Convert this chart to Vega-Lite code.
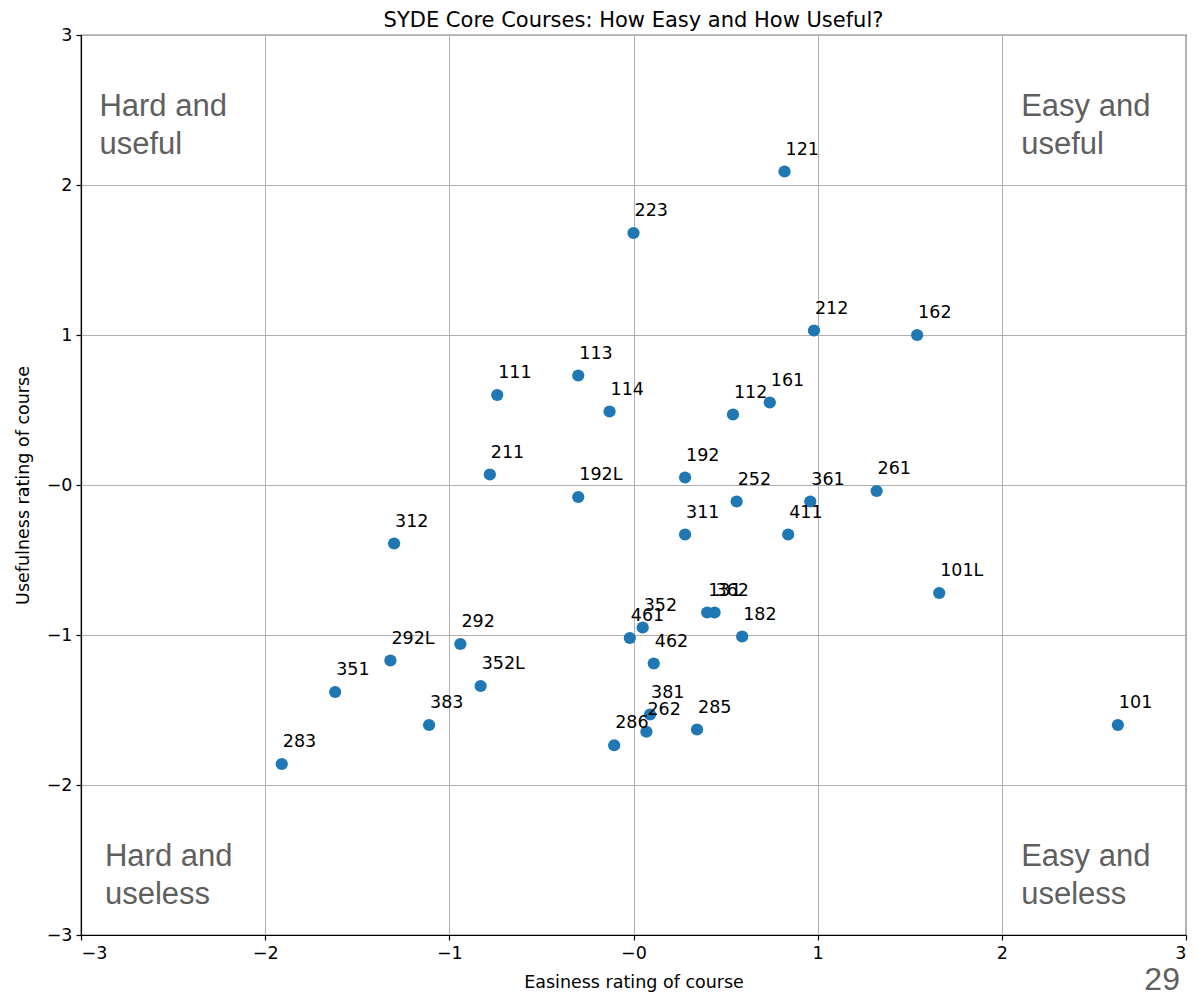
{
  "$schema": "https://vega.github.io/schema/vega-lite/v6.json",
  "width": 1105,
  "height": 900,
  "autosize": {"type": "none"},
  "padding": {"left": 81, "top": 35, "right": 12, "bottom": 57},
  "background": "white",
  "title": {"text": "SYDE Core Courses: How Easy and How Useful?", "font": "DejaVu Sans", "fontSize": 21, "fontWeight": "normal", "color": "black", "anchor": "middle", "offset": -5},
  "config": {
    "view": {"stroke": "black", "strokeWidth": 1.2},
    "axis": {"grid": true, "gridColor": "#b0b0b0", "gridWidth": 1, "domainColor": "black", "domainWidth": 1.2, "tickColor": "black", "tickSize": 5, "tickWidth": 1.2, "labelFont": "DejaVu Sans", "labelFontSize": 17.5, "labelColor": "black", "labelPadding": 4, "titleFont": "DejaVu Sans", "titleFontSize": 17.5, "titleFontWeight": "normal", "titleColor": "black"}
  },
  "datasets": {
    "courses": [
      {"label": "121", "x": 0.82, "y": 2.09},
      {"label": "223", "x": 0.0, "y": 1.68},
      {"label": "212", "x": 0.98, "y": 1.03},
      {"label": "162", "x": 1.54, "y": 1.0},
      {"label": "113", "x": -0.3, "y": 0.73},
      {"label": "111", "x": -0.74, "y": 0.6},
      {"label": "114", "x": -0.13, "y": 0.49},
      {"label": "112", "x": 0.54, "y": 0.47},
      {"label": "161", "x": 0.74, "y": 0.55},
      {"label": "211", "x": -0.78, "y": 0.07},
      {"label": "192L", "x": -0.3, "y": -0.08},
      {"label": "192", "x": 0.28, "y": 0.05},
      {"label": "252", "x": 0.56, "y": -0.11},
      {"label": "361", "x": 0.96, "y": -0.11},
      {"label": "261", "x": 1.32, "y": -0.04},
      {"label": "311", "x": 0.28, "y": -0.33},
      {"label": "411", "x": 0.84, "y": -0.33},
      {"label": "312", "x": -1.3, "y": -0.39},
      {"label": "101L", "x": 1.66, "y": -0.72},
      {"label": "131", "x": 0.4, "y": -0.85},
      {"label": "362", "x": 0.44, "y": -0.85},
      {"label": "352", "x": 0.05, "y": -0.95},
      {"label": "461", "x": -0.02, "y": -1.02},
      {"label": "182", "x": 0.59, "y": -1.01},
      {"label": "292", "x": -0.94, "y": -1.06},
      {"label": "292L", "x": -1.32, "y": -1.17},
      {"label": "462", "x": 0.11, "y": -1.19},
      {"label": "352L", "x": -0.83, "y": -1.34},
      {"label": "351", "x": -1.62, "y": -1.38},
      {"label": "383", "x": -1.11, "y": -1.6},
      {"label": "381", "x": 0.09, "y": -1.53},
      {"label": "262", "x": 0.07, "y": -1.645},
      {"label": "285", "x": 0.345, "y": -1.63},
      {"label": "286", "x": -0.105, "y": -1.735},
      {"label": "101", "x": 2.63, "y": -1.6},
      {"label": "283", "x": -1.91, "y": -1.86}
    ],
    "quadrants": [
      {"text": "Hard and\nuseful", "x": -2.9, "y": 2.46},
      {"text": "Easy and\nuseful", "x": 2.105, "y": 2.46},
      {"text": "Hard and\nuseless", "x": -2.87, "y": -2.54},
      {"text": "Easy and\nuseless", "x": 2.105, "y": -2.54}
    ],
    "page": [
      {"text": "29", "x": 2.967, "y": -3.367}
    ]
  },
  "layer": [
    {
      "mark": {"type": "rule", "color": "#1f77b4", "strokeWidth": 2},
      "encoding": {
        "x": {"datum": 0, "type": "quantitative", "scale": {"domain": [-3, 3], "nice": false, "zero": false}, "title": "Easiness rating of course"}
      }
    },
    {
      "mark": {"type": "rule", "color": "#1f77b4", "strokeWidth": 2},
      "encoding": {
        "y": {"datum": 0, "type": "quantitative", "scale": {"domain": [-3, 3], "nice": false, "zero": false}, "title": "Usefulness rating of course"}
      }
    },
    {
      "data": {"name": "courses"},
      "mark": {"type": "circle", "color": "#1f77b4", "opacity": 1, "size": 150},
      "encoding": {
        "x": {"field": "x", "type": "quantitative", "scale": {"domain": [-3, 3], "nice": false, "zero": false}, "title": "Easiness rating of course",
          "axis": {"values": [-3, -2, -1, 0, 1, 2, 3], "labelExpr": "datum.value < 0 ? '−' + (-datum.value) : (datum.value == 0 ? '−0' : '' + datum.value)", "titlePadding": 12}},
        "y": {"field": "y", "type": "quantitative", "scale": {"domain": [-3, 3], "nice": false, "zero": false}, "title": "Usefulness rating of course",
          "axis": {"values": [-3, -2, -1, 0, 1, 2, 3], "labelExpr": "datum.value < 0 ? '−' + (-datum.value) : (datum.value == 0 ? '−0' : '' + datum.value)", "titlePadding": 14}}
      }
    },
    {
      "data": {"name": "courses"},
      "mark": {"type": "text", "align": "left", "baseline": "alphabetic", "dx": 1, "dy": -17, "font": "DejaVu Sans", "fontSize": 17.5, "color": "black"},
      "encoding": {
        "x": {"field": "x", "type": "quantitative", "scale": {"domain": [-3, 3], "nice": false, "zero": false}, "title": "Easiness rating of course"},
        "y": {"field": "y", "type": "quantitative", "scale": {"domain": [-3, 3], "nice": false, "zero": false}, "title": "Usefulness rating of course"},
        "text": {"field": "label"}
      }
    },
    {
      "data": {"name": "quadrants"},
      "mark": {"type": "text", "align": "left", "baseline": "alphabetic", "font": "Liberation Sans", "fontSize": 31, "lineHeight": 38, "lineBreak": "\n", "color": "#5f5f5f"},
      "encoding": {
        "x": {"field": "x", "type": "quantitative", "scale": {"domain": [-3, 3], "nice": false, "zero": false}, "title": "Easiness rating of course"},
        "y": {"field": "y", "type": "quantitative", "scale": {"domain": [-3, 3], "nice": false, "zero": false}, "title": "Usefulness rating of course"},
        "text": {"field": "text"}
      }
    },
    {
      "data": {"name": "page"},
      "mark": {"type": "text", "align": "right", "baseline": "alphabetic", "font": "Liberation Sans", "fontSize": 32, "color": "#5f5f5f", "clip": false},
      "encoding": {
        "x": {"field": "x", "type": "quantitative", "scale": {"domain": [-3, 3], "nice": false, "zero": false}, "title": "Easiness rating of course"},
        "y": {"field": "y", "type": "quantitative", "scale": {"domain": [-3, 3], "nice": false, "zero": false}, "title": "Usefulness rating of course"},
        "text": {"field": "text"}
      }
    }
  ]
}
